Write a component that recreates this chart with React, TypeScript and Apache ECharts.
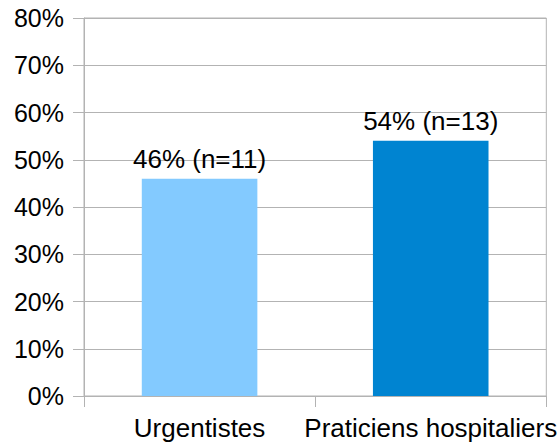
import React, { useEffect, useRef } from "react";
import * as echarts from "echarts";

const categories = ["Urgentistes", "Praticiens hospitaliers"];
const percentValues = [46, 54];
const nValues = [11, 13];
const barColors = ["#83caff", "#0084d1"];
const yTicks = { min: 0, max: 80, interval: 10 };

export default function App() {
  const ref = useRef<HTMLDivElement>(null);
  useEffect(() => {
    if (!ref.current) return;
    const chart = echarts.init(ref.current, null, { renderer: "svg" });
    const font = "'Liberation Sans', Arial, sans-serif";
    chart.setOption({
      animation: false,
      backgroundColor: "#ffffff",
      grid: {
        left: 84,
        right: 13,
        top: 18,
        bottom: 52,
        show: true,
        borderColor: "#b3b3b3",
        borderWidth: 1,
        containLabel: false,
      },
      xAxis: {
        type: "category",
        data: categories,
        boundaryGap: true,
        axisLine: { show: true, lineStyle: { color: "#b3b3b3", width: 1 } },
        axisTick: { show: true, length: 11, alignWithLabel: false, lineStyle: { color: "#b3b3b3" } },
        axisLabel: { color: "#000", fontFamily: font, fontSize: 26, margin: 19, interval: 0 },
        splitLine: { show: false },
      },
      yAxis: {
        type: "value",
        min: yTicks.min,
        max: yTicks.max,
        interval: yTicks.interval,
        axisLine: { show: true, lineStyle: { color: "#b3b3b3", width: 1 } },
        axisTick: { show: true, length: 11, lineStyle: { color: "#b3b3b3" } },
        axisLabel: { color: "#000", fontFamily: font, fontSize: 25, margin: 20, formatter: "{value}%" },
        splitLine: { show: true, lineStyle: { color: "#b3b3b3", width: 1 } },
      },
      series: [
        {
          type: "bar",
          barCategoryGap: "50%",
          data: percentValues.map((v, i) => ({ value: v, itemStyle: { color: barColors[i] } })),
          label: {
            show: true,
            position: "top",
            distance: 7,
            color: "#000",
            fontFamily: font,
            fontSize: 26,
            formatter: (p: any) => `${p.value}% (n=${nValues[p.dataIndex]})`,
          },
        },
      ],
    });
    return () => chart.dispose();
  }, []);
  return (
    <div
      ref={ref}
      style={{ position: "fixed", left: 0, top: 0, width: 560, height: 448, background: "#fff" }}
    />
  );
}
